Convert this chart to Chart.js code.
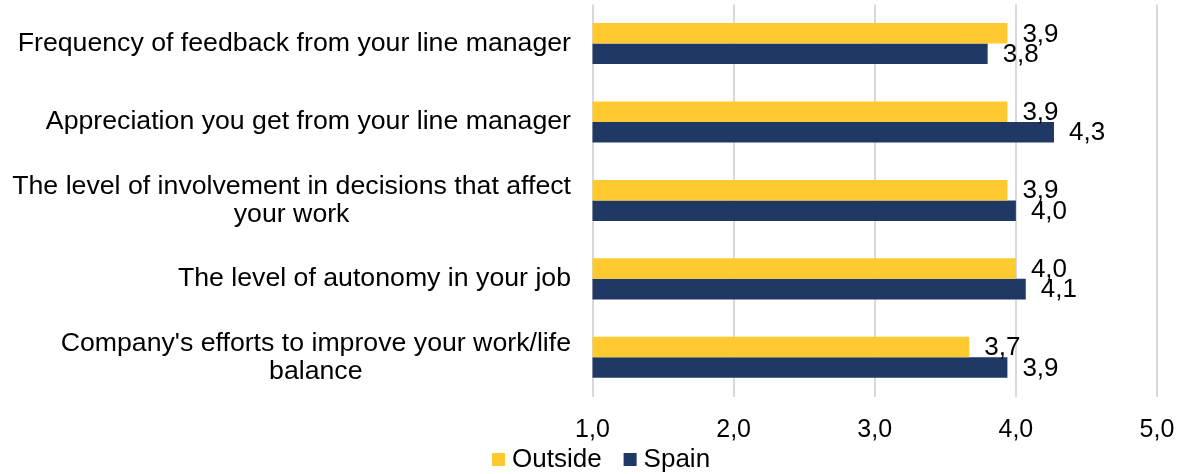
<!DOCTYPE html>
<html>
<head>
<meta charset="utf-8">
<script src="https://cdn.jsdelivr.net/npm/chart.js@4/dist/chart.umd.min.js"></script>
<style>
  html, body { margin: 0; padding: 0; background: #ffffff; }
  canvas { display: block; }
</style>
</head>
<body>
<canvas id="chart" width="1183" height="474"></canvas>
<script>
// Survey categories (multi-line labels are split into lines)
const categories = [
  ["Frequency of feedback from your line manager"],
  ["Appreciation you get from your line manager"],
  ["The level of involvement in decisions that affect", "your work"],
  ["The level of autonomy in your job"],
  ["Company's efforts to improve your work/life", "balance"]
];
const seriesNames = ["Outside", "Spain"];
const outsideValues = [3.94, 3.94, 3.94, 4.00, 3.67];
const spainValues = [3.80, 4.27, 4.00, 4.07, 3.94];
const xTickValues = [1, 2, 3, 4, 5];

const COLORS = ["#FFCA2F", "#1F3864"];
const FONT = "'Liberation Sans', Arial, sans-serif";
Chart.defaults.font.family = FONT;
Chart.defaults.color = "#000000";

// Decimal comma, one digit
const fmt = v => Number(v).toFixed(1).replace(".", ",");

// Category labels: block right-aligned against the axis, lines centred within the block
const categoryLabels = {
  id: "categoryLabels",
  afterDraw(chart) {
    const { ctx } = chart;
    const yScale = chart.scales.y;
    const right = 571;
    const lineH = 28;
    ctx.save();
    ctx.font = "26.7px " + FONT;
    ctx.fillStyle = "#000000";
    ctx.textAlign = "center";
    ctx.textBaseline = "middle";
    chart.data.labels.forEach((lines, i) => {
      const y = yScale.getPixelForValue(i);
      const blockW = Math.max(...lines.map(l => ctx.measureText(l).width));
      const cx = right - blockW / 2;
      lines.forEach((line, k) => {
        ctx.fillText(line, cx, y - (lines.length - 1) * lineH / 2 + k * lineH);
      });
    });
    ctx.restore();
  }
};

// Value labels just past the end of each bar
const valueLabels = {
  id: "valueLabels",
  afterDatasetsDraw(chart) {
    const { ctx } = chart;
    ctx.save();
    ctx.font = "26px " + FONT;
    ctx.fillStyle = "#000000";
    ctx.textAlign = "left";
    ctx.textBaseline = "middle";
    chart.data.datasets.forEach((ds, di) => {
      chart.getDatasetMeta(di).data.forEach((bar, i) => {
        ctx.fillText(fmt(ds.data[i]), bar.x + 15, bar.y + 1);
      });
    });
    ctx.restore();
  }
};

// Bottom legend with square swatches
const squareLegend = {
  id: "squareLegend",
  afterDraw(chart) {
    const { ctx } = chart;
    ctx.save();
    ctx.font = "26px " + FONT;
    ctx.textAlign = "left";
    ctx.textBaseline = "middle";
    let x = 492;
    const y = 459.5;
    chart.data.datasets.forEach(ds => {
      ctx.fillStyle = ds.backgroundColor;
      ctx.fillRect(x, y - 6.5, 13, 13);
      ctx.fillStyle = "#000000";
      ctx.fillText(ds.label, x + 20, y);
      x += 20 + ctx.measureText(ds.label).width + 22;
    });
    ctx.restore();
  }
};

new Chart(document.getElementById("chart"), {
  type: "bar",
  data: {
    labels: categories,
    datasets: [
      { label: seriesNames[0], data: outsideValues, backgroundColor: COLORS[0] },
      { label: seriesNames[1], data: spainValues, backgroundColor: COLORS[1] }
    ]
  },
  options: {
    indexAxis: "y",
    responsive: false,
    animation: false,
    layout: { padding: { top: 4.4, right: 26, bottom: 0, left: 0 } },
    datasets: { bar: { categoryPercentage: 0.523, barPercentage: 1.0 } },
    plugins: {
      legend: { display: false },
      tooltip: { enabled: false }
    },
    scales: {
      y: {
        type: "category",
        ticks: { display: false },
        grid: { display: false },
        border: { display: false },
        afterFit(scale) { scale.width = 592.5; }
      },
      x: {
        type: "linear",
        min: xTickValues[0],
        max: xTickValues[xTickValues.length - 1],
        afterBuildTicks(scale) { scale.ticks = xTickValues.map(v => ({ value: v })); },
        ticks: {
          padding: 18.5,
          font: { size: 25 },
          color: "#000000",
          callback: v => fmt(v)
        },
        grid: { color: "#D9D9D9", lineWidth: 2, drawTicks: false },
        border: { display: false },
        afterFit(scale) {
          scale.height = 77.5;
          scale.paddingLeft = 0;
          scale.paddingRight = 0;
        }
      }
    }
  },
  plugins: [categoryLabels, valueLabels, squareLegend]
});
</script>
</body>
</html>
